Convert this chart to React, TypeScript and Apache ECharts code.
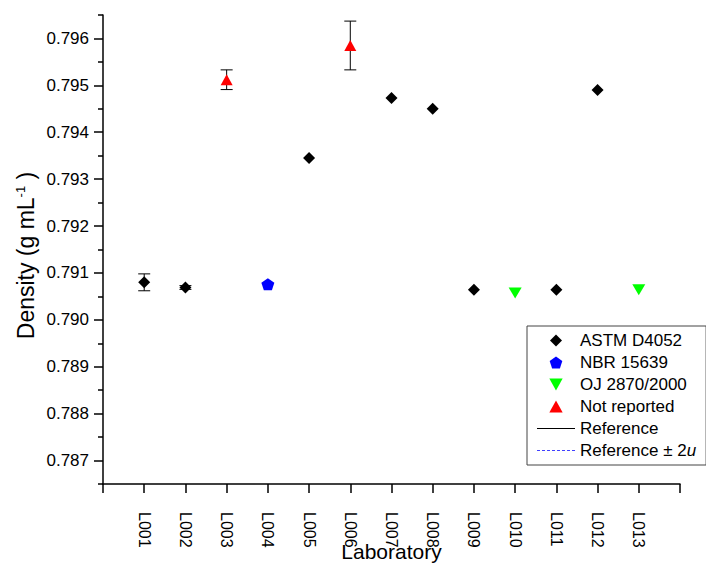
import React, { useEffect, useRef } from "react";
import * as echarts from "echarts";

// Laboratory codes along the x axis (positions 1..13)
const labs = ["L001", "L002", "L003", "L004", "L005", "L006", "L007", "L008", "L009", "L010", "L011", "L012", "L013"];
// Measurement method per laboratory
const methods = ["ASTM", "ASTM", "NR", "NBR", "ASTM", "NR", "ASTM", "ASTM", "ASTM", "OJ", "ASTM", "ASTM", "OJ"];
// Reported density (g/mL)
const density = [0.7908, 0.79069, 0.79512, 0.79076, 0.79345, 0.79585, 0.79473, 0.7945, 0.79064, 0.79057, 0.79064, 0.7949, 0.79064];
// Half-width of the reported uncertainty (g/mL); 0 = not shown
const uncertainty = [0.00018, 0.00004, 0.00021, 0, 0, 0.00052, 0, 0, 0, 0, 0, 0, 0];

// y-axis tick values
const yMajorTicks = [0.787, 0.788, 0.789, 0.79, 0.791, 0.792, 0.793, 0.794, 0.795, 0.796];
const yMinorTicks = [0.7865, 0.7875, 0.7885, 0.7895, 0.7905, 0.7915, 0.7925, 0.7935, 0.7945, 0.7955, 0.7965];

const FONT = "'Liberation Sans', Arial, sans-serif";
const DIAMOND = "path://M0,-1 L1,0 L0,1 L-1,0 Z";
const PENTAGON = "path://M0,-1 L0.951,-0.309 L0.588,0.809 L-0.588,0.809 L-0.951,-0.309 Z";
const DOWN_TRIANGLE = "path://M0,0 L10,0 L5,9 Z";
const UP_TRIANGLE = "path://M0,9 L5,0 L10,9 Z";

// thin horizontal bar icons for the line entries of the legend
const solidLineIcon = "path://M0,0 h38 v1 h-38 Z";
const dashedLineIcon =
  "path://" +
  Array.from({ length: 8 }, (_, k) => `M${k * 5},0 h3 v1 h-3 Z`).join(" ") +
  " M38,0 h0.01 v1 h-0.01 Z";

const pointsFor = (m: string) =>
  labs.map((_, i) => (methods[i] === m ? [i + 1, density[i]] : null)).filter((p) => p !== null);

export default function App() {
  const ref = useRef<HTMLDivElement>(null);

  useEffect(() => {
    if (!ref.current) return;
    const chart = echarts.init(ref.current, null, { renderer: "svg" });

    const errorData = labs
      .map((_, i) => (uncertainty[i] > 0 ? [i + 1, density[i] - uncertainty[i], density[i] + uncertainty[i]] : null))
      .filter((d) => d !== null);

    chart.setOption({
      animation: false,
      backgroundColor: "#fff",
      textStyle: { fontFamily: FONT },
      grid: { left: 103, top: 15, right: 26, bottom: 81, containLabel: false, outerBoundsMode: "none" },
      xAxis: {
        type: "value",
        min: 0,
        max: 14,
        interval: 1,
        name: "Laboratory",
        nameLocation: "middle",
        nameGap: 57,
        nameMoveOverlap: false,
        nameTextStyle: { fontSize: 21, color: "#000", fontFamily: FONT },
        axisLine: { lineStyle: { color: "#000", width: 1.5 } },
        axisTick: { show: true, inside: false, length: 9, lineStyle: { color: "#000", width: 1.5 } },
        axisLabel: {
          rotate: -90,
          margin: 28,
          fontSize: 16,
          color: "#000",
          fontFamily: FONT,
          formatter: (v: number) => (v >= 1 && v <= labs.length ? labs[v - 1] : ""),
        },
        splitLine: { show: false },
      },
      yAxis: [
        {
          type: "value",
          min: 0.7865,
          max: 0.7965,
          name: "Density (g mL{sup|-1} )",
          nameLocation: "middle",
          nameGap: 66,
          nameMoveOverlap: false,
          nameTextStyle: {
            fontSize: 23,
            color: "#000",
            fontFamily: FONT,
            padding: [0, 12, 0, 0],
            rich: { sup: { fontSize: 13, verticalAlign: "top", color: "#000", fontFamily: FONT } },
          },
          axisLine: { show: true, lineStyle: { color: "#000", width: 1.5 } },
          axisTick: { show: true, inside: false, length: 9, customValues: yMajorTicks, lineStyle: { color: "#000", width: 1.5 } },
          axisLabel: {
            customValues: yMajorTicks,
            margin: 14,
            fontSize: 17,
            color: "#000",
            fontFamily: FONT,
            formatter: (v: number) => v.toFixed(3),
          },
          splitLine: { show: false },
        },
        {
          type: "value",
          min: 0.7865,
          max: 0.7965,
          position: "left",
          axisLine: { show: false },
          axisTick: { show: true, inside: false, length: 5, customValues: yMinorTicks, lineStyle: { color: "#000", width: 1.5 } },
          axisLabel: { show: false },
          splitLine: { show: false },
        },
      ],
      legend: {
        orient: "vertical",
        left: 527,
        top: 326,
        padding: [6, 10, 6, 10],
        itemGap: 5,
        itemWidth: 38,
        itemHeight: 12,
        symbolKeepAspect: true,
        borderColor: "#444",
        borderWidth: 1,
        backgroundColor: "#fff",
        data: [
          { name: "ASTM D4052", icon: DIAMOND },
          { name: "NBR 15639", icon: PENTAGON },
          { name: "OJ 2870/2000", icon: DOWN_TRIANGLE },
          { name: "Not reported", icon: UP_TRIANGLE },
          { name: "Reference", icon: solidLineIcon },
          { name: "Reference ± 2u", icon: dashedLineIcon },
        ],
        formatter: (name: string) => (name === "Reference ± 2u" ? "Reference ± 2{it|u}" : name),
        textStyle: {
          fontSize: 17,
          color: "#000",
          fontFamily: FONT,
          rich: { it: { fontSize: 17, fontStyle: "italic", color: "#000", fontFamily: FONT } },
        },
      },
      series: [
        {
          type: "custom",
          name: "errors",
          z: 1,
          renderItem: (_params: any, api: any) => {
            const x = api.value(0);
            const top = api.coord([x, api.value(2)]);
            const bot = api.coord([x, api.value(1)]);
            const w = 6;
            const style = { stroke: "#000", lineWidth: 1 };
            return {
              type: "group",
              children: [
                { type: "line", shape: { x1: top[0], y1: top[1], x2: bot[0], y2: bot[1] }, style },
                { type: "line", shape: { x1: top[0] - w, y1: top[1], x2: top[0] + w, y2: top[1] }, style },
                { type: "line", shape: { x1: bot[0] - w, y1: bot[1], x2: bot[0] + w, y2: bot[1] }, style },
              ],
            };
          },
          encode: { x: 0, y: [1, 2] },
          data: errorData,
        },
        {
          name: "ASTM D4052",
          type: "scatter",
          z: 3,
          symbol: "diamond",
          symbolSize: [12, 12],
          itemStyle: { color: "#000", opacity: 1 },
          data: pointsFor("ASTM"),
        },
        {
          name: "NBR 15639",
          type: "scatter",
          z: 3,
          symbol: PENTAGON,
          symbolSize: [13, 12],
          itemStyle: { color: "#0000ff", opacity: 1 },
          data: pointsFor("NBR"),
        },
        {
          name: "OJ 2870/2000",
          type: "scatter",
          z: 3,
          symbol: DOWN_TRIANGLE,
          symbolSize: [13, 11],
          itemStyle: { color: "#00ff00", opacity: 1 },
          data: pointsFor("OJ"),
        },
        {
          name: "Not reported",
          type: "scatter",
          z: 3,
          symbol: "triangle",
          symbolSize: [12, 11],
          itemStyle: { color: "#ff0000", opacity: 1 },
          data: pointsFor("NR"),
        },
        {
          name: "Reference",
          type: "line",
          symbol: "none",
          lineStyle: { color: "#000", width: 1 },
          itemStyle: { color: "#000" },
          data: [],
        },
        {
          name: "Reference ± 2u",
          type: "line",
          symbol: "none",
          lineStyle: { color: "#4040ff", width: 1, type: [3, 2] },
          itemStyle: { color: "#4040ff" },
          data: [],
        },
      ],
    });

    return () => chart.dispose();
  }, []);

  return (
    <div
      ref={ref}
      style={{ position: "fixed", left: 0, top: 0, width: 706, height: 565, background: "#fff" }}
    />
  );
}
